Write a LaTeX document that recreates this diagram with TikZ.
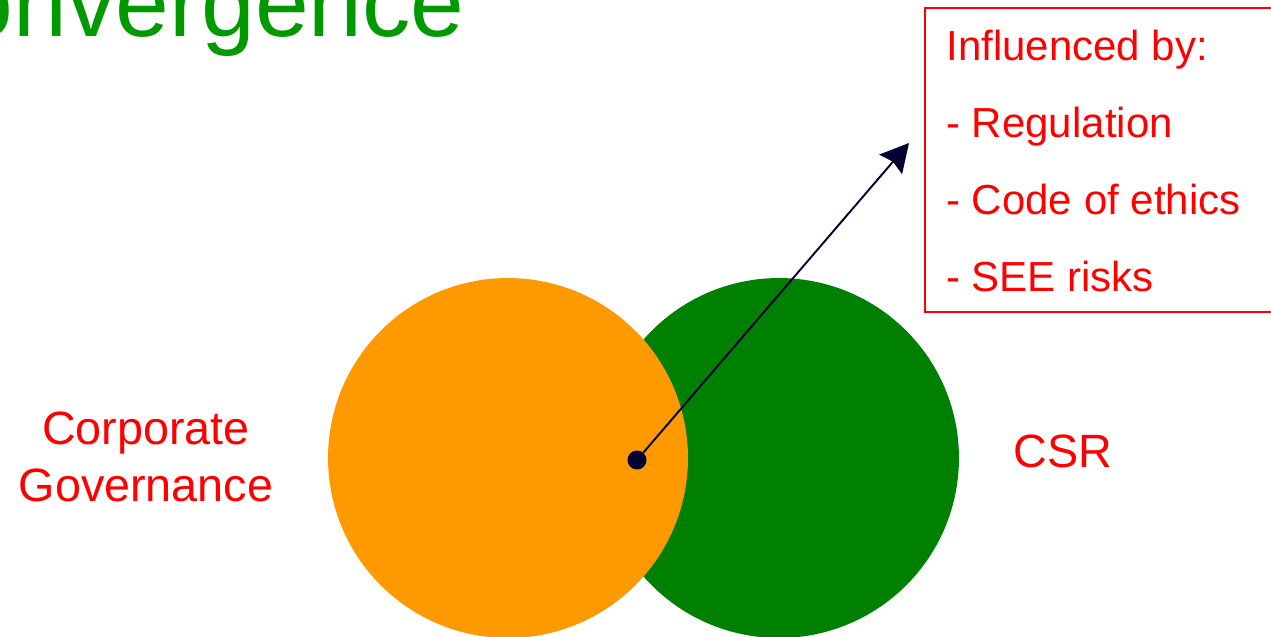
\documentclass[tikz,border=0pt]{standalone}
\usepackage{fontspec}
\setmainfont{Liberation Sans}
\usetikzlibrary{arrows.meta,positioning}
\definecolor{cgorange}{RGB}{255,153,0}
\definecolor{csrgreen}{RGB}{0,128,0}
\definecolor{titlegreen}{RGB}{0,153,0}
\definecolor{dotnavy}{RGB}{0,0,51}

\begin{document}
\begin{tikzpicture}[
  x=0.02cm,y=-0.02cm,
  disc/.style={circle,inner sep=0pt,minimum size=7.2cm},
  redtext/.style={text=red,font=\fontsize{23.9}{32.3}\selectfont,
                  align=center,inner sep=0pt},
  bigred/.style={redtext,font=\fontsize{26.6}{32.3}\selectfont},
  pointer/.style={-{Stealth[length=16pt,width=17pt,inset=2pt]},
                  line width=1.1pt,dotnavy}
]
  \useasboundingbox (0,0) rectangle (1271,636);
  \clip (0,0) rectangle (1271,636);

  \node[anchor=base east,inner sep=0pt,text=titlegreen,
        font=\fontsize{55}{60}\selectfont] (title) at (465,36) {Convergence};

  \node[disc,fill=csrgreen] (csr) at (779,458) {};
  \node[disc,fill=cgorange] (cg)  at (508,458) {};

  \node[bigred] (cglabel) at (146,457) {Corporate\\Governance};
  \node[bigred,anchor=base] (csrlabel) at (1063,467) {CSR};

  \node[draw=red,line width=1pt,anchor=north west,inner sep=0pt,
        minimum width=8cm,minimum height=6.08cm] (infbox) at (924,7) {};
  \foreach \y/\txt [count=\i] in {60/Influenced by:,137/- Regulation,
                                  214/- Code of ethics,291/- SEE risks}{
    \node[redtext,anchor=base west] (inf\i) at (946,\y) {\txt};
  }

  \node[circle,fill=dotnavy,inner sep=0pt,minimum size=0.38cm] (dot) at (637,460) {};
  \coordinate (tip) at (909,143);
  \draw[pointer] (dot) -- (tip);
\end{tikzpicture}
\end{document}
